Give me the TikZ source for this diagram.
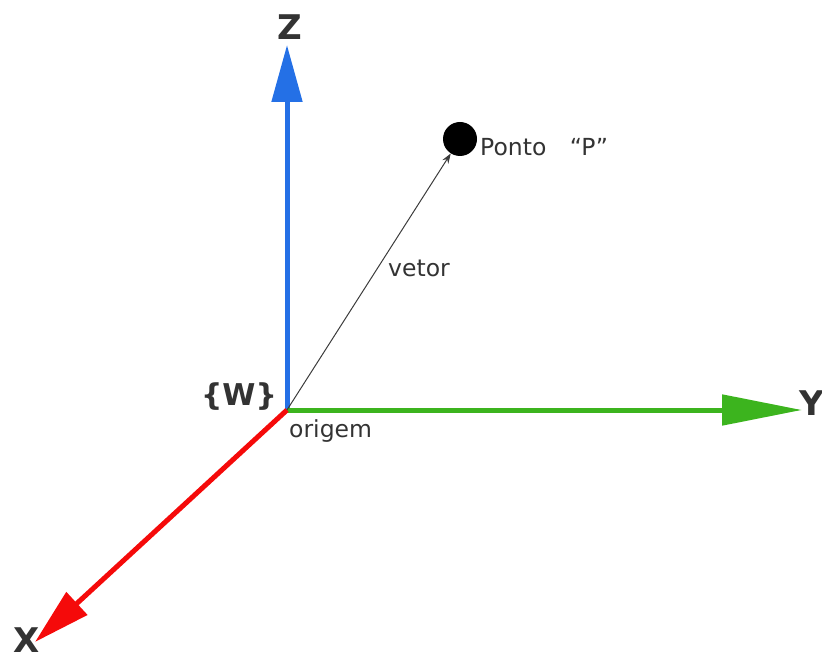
\documentclass[tikz,border=0pt]{standalone}
\usepackage{fontspec}
\setmainfont{DejaVu Sans}
\definecolor{axisblue}{RGB}{36,112,230}
\definecolor{axisgreen}{RGB}{60,180,30}
\definecolor{axisred}{RGB}{245,10,10}
\definecolor{textgray}{RGB}{51,51,51}
\definecolor{vecgray}{RGB}{60,60,60}
\usetikzlibrary{arrows.meta,positioning}

\tikzset{
  axis/.style={line width=5pt},
  axislabel/.style={text=textgray,font=\bfseries\fontsize{34}{40}\selectfont,inner sep=0pt},
  tag/.style={text=textgray,font=\fontsize{23.5}{28}\selectfont,inner sep=0pt}
}

\begin{document}
\begin{tikzpicture}[x=1pt,y=-1pt]
    \useasboundingbox (0,0) rectangle (822,652);

    % origin and axis ends
    \coordinate (O) at (287,410);
    \coordinate (ztip) at (287,45);
    \coordinate (ytip) at (802,410);
    \coordinate (xtip) at (35,642);

    \draw[axis,axisblue,-{Triangle[length=57pt,width=30pt]}] (O) -- (ztip);
    \draw[axis,axisgreen,-{Triangle[length=80pt,width=30pt]}] (O) -- (ytip);
    \draw[axis,axisred,-{Triangle[length=57pt,width=30pt]}] (O) -- (xtip);

    \node[axislabel] (zlab) at (290,27) {Z};
    \node[axislabel] (ylab) at (812,403) {Y};
    \node[axislabel] (xlab) at (27,640) {X};
    \node[axislabel,font=\bfseries\fontsize{30}{36}\selectfont] (wlab) at (239,397) {\{W\}};
    \node[tag,anchor=north west] (origem) at (289,419) {origem};

    % point and vector
    \node[circle,fill=black,minimum size=34pt,inner sep=0pt] (P) at (460,139) {};
    \draw[vecgray,line width=1pt,-{Stealth[length=10pt,width=7pt]}] (O) -- (P);
    \node[tag] (vetor) at (419,268) {vetor};
    \node[tag,anchor=west] (ponto) at (480,147) {Ponto\hspace{1em}“P”};
\end{tikzpicture}
\end{document}
